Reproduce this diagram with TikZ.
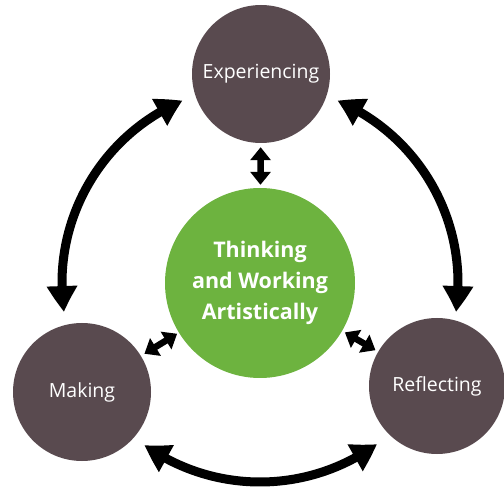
\documentclass[tikz,border=0pt]{standalone}
\usepackage{fontspec}
\setmainfont{Open Sans}
\usetikzlibrary{arrows.meta,bending}
\definecolor{circbrown}{HTML}{594A4F}
\definecolor{circgreen}{HTML}{6DB33F}
\begin{document}
\begin{tikzpicture}[x=1pt,y=1pt,
  outer/.style={circle,fill=circbrown,minimum size=138pt,inner sep=0pt,text=white,font=\fontsize{19.5}{23}\selectfont},
  core/.style={circle,fill=circgreen,minimum size=190pt,inner sep=0pt,text=white,align=center,font=\bfseries\fontsize{21.5}{31}\selectfont},
  bigarr/.style={line width=9pt,{Triangle[length=26pt,width=29pt,bend]}-{Triangle[length=26pt,width=29pt,bend]}},
  smallarr/.style={line width=6.5pt,{Triangle[length=13pt,width=20pt]}-{Triangle[length=13pt,width=20pt]}}]
\useasboundingbox (0,0) rectangle (504,488);
\node[core] (think) at (260,205) {Thinking\\and Working\\Artistically};
\node[outer] (exp) at (261,414) {Experiencing};
\node[outer] (make) at (82,96) {Making};
\node[outer,minimum size=136pt] (refl) at (437,102) {Reflecting};
\coordinate (hub) at (260,205);
\draw[bigarr] ([shift={(113:198)}]hub) arc[start angle=113,end angle=188.4,radius=198];
\draw[bigarr] ([shift={(67:198)}]hub) arc[start angle=67,end angle=-8.4,radius=198];
\draw[bigarr] ([shift={(234.5:199)}]hub) arc[start angle=234.5,end angle=306,radius=199];
\draw[smallarr,shorten <=4pt,shorten >=3pt] (exp) -- (think);
\draw[smallarr,shorten <=4pt,shorten >=2pt] (make) -- (think);
\draw[smallarr,shorten <=3pt,shorten >=3pt] (think) -- (refl);
\end{tikzpicture}
\end{document}
